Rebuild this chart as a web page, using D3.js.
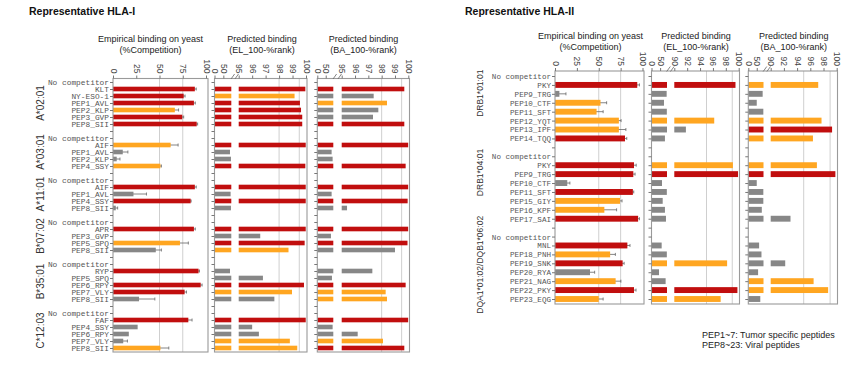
<!DOCTYPE html>
<html><head><meta charset="utf-8">
<script src="https://cdn.jsdelivr.net/npm/d3@7/dist/d3.min.js"></script>
<style>body{margin:0;background:#fff;} svg{display:block;}</style>
</head><body>
<svg id="chart" width="865" height="369"></svg>
<script>
// ---------------- DATA: HLA-I ----------------
const hla1Alleles = ["A*02:01","A*03:01","A*11:01","B*07:02","B*35:01","C*12:03"];
const hla1Peptides = [
  ["KLT","NY-ESO-1","PEP1_AVL","PEP2_KLP","PEP3_GVP","PEP8_SII"],
  ["AIF","PEP1_AVL","PEP2_KLP","PEP4_SSY"],
  ["AIF","PEP1_AVL","PEP4_SSY","PEP8_SII"],
  ["APR","PEP3_GVP","PEP5_SPQ","PEP8_SII"],
  ["RYP","PEP5_SPQ","PEP6_RPY","PEP7_VLY","PEP8_SII"],
  ["FAF","PEP4_SSY","PEP6_RPY","PEP7_VLY","PEP8_SII"]
];
const hla1Emp    = [[88,76,87,66.5,74.5,90],[62,10.5,4,51],[88,22,83.5,3],[87,0,72,46],[92,0,94.3,77,28],[81,26.5,17,11,51]];
const hla1EmpErr = [[1.5,1.5,1.5,4,1.5,1],[8,5.5,3.5,1],[1.5,14,0.5,2],[1.5,0,9,6],[1,0,1.5,2,17],[4,0,0,4.5,9]];
const hla1EmpCol = ["rrrorr","oggo","rgrg","rgog","rgrrg","rgggo"];
const hla1EL     = [[99.95,99.15,99.55,99.63,99.72,99.72],[99.98,87.5,93,99.95],[99.98,91,99.98,93],[99.98,96.6,99.9,98.7],[87.6,96.8,99.85,98.96,97.65],[99.98,96,96.5,98.8,99.35]];
const hla1ELCol  = ["rorrrr","rggr","rgrg","rgro","ggrog","rggoo"];
const hla1BA     = [[99.7,97.4,98.4,97.75,97.35,99.7],[99.99,85,91,99.8],[99.99,85,99.95,95.4],[99.99,81,99.94,99.0],[97.3,87,99.8,98.3,98.4],[99.99,91,96.2,98.1,99.7]];
const hla1BACol  = ["rgoggr","rggr","rgrg","rgrg","ggroo","rggor"];
const hla1PredTicks = [95,96,97,98,99,100];
const hla1PredGrid  = [98,99.5];

// ---------------- DATA: HLA-II ----------------
const hla2Alleles = ["DRB1*01:01","DRB1*04:01","DQA1*01:02/DQB1*06:02"];
const hla2Peptides = [
  ["PKY","PEP9_TRG","PEP10_CTF","PEP11_SFT","PEP12_YQT","PEP13_IPF","PEP14_TQQ"],
  ["PKY","PEP9_TRG","PEP10_CTF","PEP11_SFT","PEP15_GIY","PEP16_KPF","PEP17_SAI"],
  ["MNL","PEP18_PNH","PEP19_SNK","PEP20_RYA","PEP21_NAG","PEP22_PKY","PEP23_EQG"]
];
const hla2Emp    = [[94,5,52,47.5,73,73,80],[90.3,89.5,14,89,74.3,56.4,95],[82.7,63,77.3,40,69.3,90.3,50]];
const hla2EmpErr = [[2.5,7.5,7,7.5,2.5,8,2],[2.5,2,3,1,2.3,14,1.5],[3,6,1.7,5.3,6,2.3,5]];
const hla2EmpCol = ["rgoooor","rrgroor","rorgoro"];
const hla2EL     = [[99.5,88,72.5,89,96.2,91.8,78],[99.1,99.9,61,89,65,78,84],[59,89,98.2,43.6,82,99.8,97.2]];
const hla2ELCol  = ["rgggogg","orggggg","ggoggro"];
const hla2BA     = [[97.2,85,50,89,97.7,99.3,96.4],[97.0,99.8,50,89,89,80,93.0],[64,78,92.2,58,96.5,98.7,71]];
const hla2BACol  = ["ogggoro","orggggg","ggggoog"];
const hla2PredTicks = [90,92,94,96,98,100];
const hla2PredGrid  = [95,99];

const empTicks = [0,25,50,75,100];
const empGrid = [50,75];
const lowTicks = [0,50];
const footnotes = ["PEP1~7: Tumor specific peptides","PEP8~23: Viral peptides"];

// ---------------- DRAWING ----------------
const C = {r:"#C10E0E", o:"#FFA621", g:"#878787"};
const SANS = "'Liberation Sans', Arial, sans-serif";
const MONO = "'Liberation Mono', 'Courier New', monospace";
const svg = d3.select("#chart");

function buildRows(alleles, peptides, emp, err, empCol, el, elCol, ba, baCol){
  const rows=[], groups=[];
  alleles.forEach((a,gi)=>{
    const start=rows.length;
    rows.push({label:"No competitor"});
    peptides[gi].forEach((p,i)=>rows.push({label:p, emp:emp[gi][i], err:err[gi][i], empCol:empCol[gi][i],
      el:el[gi][i], elCol:elCol[gi][i], ba:ba[gi][i], baCol:baCol[gi][i]}));
    groups.push({name:a,start,end:rows.length-1});
    if(gi<alleles.length-1) rows.push({label:""});
  });
  return {rows,groups};
}

function topAxis(g, scale, ticks, top){
  const a = g.append("g").attr("transform",`translate(0,${top})`)
    .call(d3.axisTop(scale).tickValues(ticks).tickSize(3).tickSizeOuter(0).tickFormat(d3.format("d")));
  a.select(".domain").remove();
  a.selectAll("line").attr("stroke","#777");
  a.selectAll("text").attr("x",0).attr("y",0).attr("dy","0.35em")
    .attr("transform","translate(0,-5) rotate(90)").attr("text-anchor","end")
    .attr("font-family",SANS).attr("font-size",8.5).attr("fill","#444");
}
function leftTicks(g, y, n, x, labels, font, width){
  const ax = d3.axisLeft(y).tickValues(d3.range(n)).tickSize(3).tickSizeOuter(0).tickPadding(1)
    .tickFormat(i=>labels?labels[i]:"");
  const a = g.append("g").attr("transform",`translate(${x},0)`).call(ax);
  a.select(".domain").remove();
  a.selectAll("line").attr("stroke","#777");
  a.selectAll("text").attr("font-family",MONO).attr("font-size",font).attr("fill","#555")
    .each(function(i){ if(labels && labels[i]) d3.select(this).attr("textLength",labels[i].length*width).attr("lengthAdjust","spacingAndGlyphs"); });
}
function frame(g,x0,x1,top,bottom){
  g.append("rect").attr("x",x0).attr("y",top).attr("width",x1-x0).attr("height",bottom-top)
    .attr("fill","none").attr("stroke","#9a9a9a").attr("stroke-width",1.1);
}
function titles(g, lines, cx, ys){
  lines.forEach((t,i)=>g.append("text").attr("x",cx).attr("y",ys[i]).attr("text-anchor","middle")
    .attr("font-family",SANS).attr("font-size",9).attr("fill","#222").text(t));
}

function drawFigure(o){
  const {rows,groups} = buildRows(...o.data);
  const n = rows.length;
  const y = d3.scaleLinear().domain([0,n-1]).range([o.firstY,o.lastY]);
  const bh = (y(1)-y(0))*0.66;
  const g = svg.append("g");
  g.append("text").attr("x",o.titleX).attr("y",15).attr("font-family",SANS).attr("font-weight","bold")
    .attr("font-size",10.5).attr("fill","#111").text(o.title);

  // group labels
  groups.forEach((gr,i)=>{
    const cy = (y(gr.start)+y(gr.end))/2 + (o.groupShift?o.groupShift[i]:0);
    g.append("text").attr("transform",`translate(${o.groupX},${cy}) rotate(-90)`).attr("dy","0.35em")
      .attr("text-anchor","middle").attr("font-family",SANS).attr("font-size",o.groupFont).attr("fill","#333").text(gr.name);
  });

  // ---- empirical panel
  const xe = d3.scaleLinear().domain([0,100]).range([o.emp[0],o.emp[1]]);
  empGrid.forEach(v=>g.append("line").attr("x1",xe(v)).attr("x2",xe(v)).attr("y1",o.top).attr("y2",o.bottom)
    .attr("stroke","#cfcfcf").attr("stroke-width",1));
  rows.forEach((r,i)=>{
    if(r.emp==null) return;
    if(r.err>0){
      const xa=xe(Math.max(0,r.emp-r.err)), xb=xe(r.emp+r.err);
      g.append("line").attr("x1",xa).attr("x2",xb).attr("y1",y(i)).attr("y2",y(i)).attr("stroke","#666").attr("stroke-width",0.8);
      g.append("line").attr("x1",xb).attr("x2",xb).attr("y1",y(i)-1.5).attr("y2",y(i)+1.5).attr("stroke","#666").attr("stroke-width",0.8);
    }
    if(r.emp>0) g.append("rect").attr("x",xe(0)).attr("y",y(i)-bh/2).attr("width",xe(r.emp)-xe(0)).attr("height",bh).attr("fill",C[r.empCol]);
  });
  frame(g,o.emp[0],o.emp[2],o.top,o.bottom);
  topAxis(g,xe,empTicks,o.top);
  leftTicks(g,y,n,o.emp[0],rows.map(r=>r.label),o.labelFont,o.charW);
  titles(g,["Empirical binding on yeast","(%Competition)"],o.empTitleX,o.titleYs);

  // ---- predicted panels
  [["el","elCol",o.el,"(EL_100-%rank)"],["ba","baCol",o.ba,"(BA_100-%rank)"]].forEach(([k,ck,p,sub])=>{
    const lo = d3.scaleLinear().domain([0,o.brk]).range([p.left,p.lowEnd]);
    const hi = d3.scaleLinear().domain([o.brk,100]).range([p.hiStart,p.hiEnd]);
    o.grid.forEach(v=>g.append("line").attr("x1",hi(v)).attr("x2",hi(v)).attr("y1",o.top).attr("y2",o.bottom)
      .attr("stroke","#cfcfcf").attr("stroke-width",1));
    rows.forEach((r,i)=>{
      if(r[k]==null) return;
      const v=r[k], c=C[r[ck]];
      g.append("rect").attr("x",lo(0)).attr("y",y(i)-bh/2).attr("width",lo(Math.min(v,o.brk))-lo(0)).attr("height",bh).attr("fill",c);
      if(v>o.brk) g.append("rect").attr("x",hi(o.brk)).attr("y",y(i)-bh/2).attr("width",hi(v)-hi(o.brk)).attr("height",bh).attr("fill",c);
    });
    frame(g,p.left,p.right,o.top,o.bottom);
    topAxis(g,lo,lowTicks,o.top);
    topAxis(g,hi,o.ticks,o.top);
    [lo(o.brk)+1.5, hi(o.brk)-2].forEach(x=>g.append("line").attr("x1",x-1.8).attr("y1",o.top+0.5).attr("x2",x+1.8).attr("y2",o.top-4.5)
      .attr("stroke","#666").attr("stroke-width",0.8));
    leftTicks(g,y,n,p.left,null,o.labelFont,o.charW);
    titles(g,["Predicted binding",sub],p.titleX,o.titleYs);
  });
}

drawFigure({
  data:[hla1Alleles,hla1Peptides,hla1Emp,hla1EmpErr,hla1EmpCol,hla1EL,hla1ELCol,hla1BA,hla1BACol],
  title:"Representative HLA-I", titleX:29,
  firstY:82, lastY:348, top:78.5, bottom:352,
  groupX:40, groupFont:10, labelFont:6.9, charW:4.7,
  emp:[113,206,208], empTitleX:150.5, titleYs:[42,53],
  brk:95, ticks:hla1PredTicks, grid:hla1PredGrid,
  el:{left:214.5,lowEnd:231.3,hiStart:238.7,hiEnd:306,right:307,titleX:262},
  ba:{left:317.3,lowEnd:333.3,hiStart:341.7,hiEnd:408.3,right:409.5,titleX:363.5}
});
drawFigure({
  data:[hla2Alleles,hla2Peptides,hla2Emp,hla2EmpErr,hla2EmpCol,hla2EL,hla2ELCol,hla2BA,hla2BACol],
  title:"Representative HLA-II", titleX:465,
  firstY:76, lastY:299, top:71, bottom:304,
  groupX:480, groupFont:8.5, labelFont:7.7, charW:4.55, groupShift:[-14,-15,-3],
  emp:[555,642.5,644], empTitleX:590.5, titleYs:[39,50],
  brk:90, ticks:hla2PredTicks, grid:hla2PredGrid,
  el:{left:651.5,lowEnd:667,hiStart:674.3,hiEnd:738.7,right:739.5,titleX:696},
  ba:{left:748.3,lowEnd:763.5,hiStart:770.7,hiEnd:836.7,right:837.5,titleX:793.7}
});
footnotes.forEach((t,i)=>svg.append("text").attr("x",702).attr("y",338+i*10).attr("font-family",SANS)
  .attr("font-size",9).attr("fill","#222").text(t));
</script>
</body></html>
